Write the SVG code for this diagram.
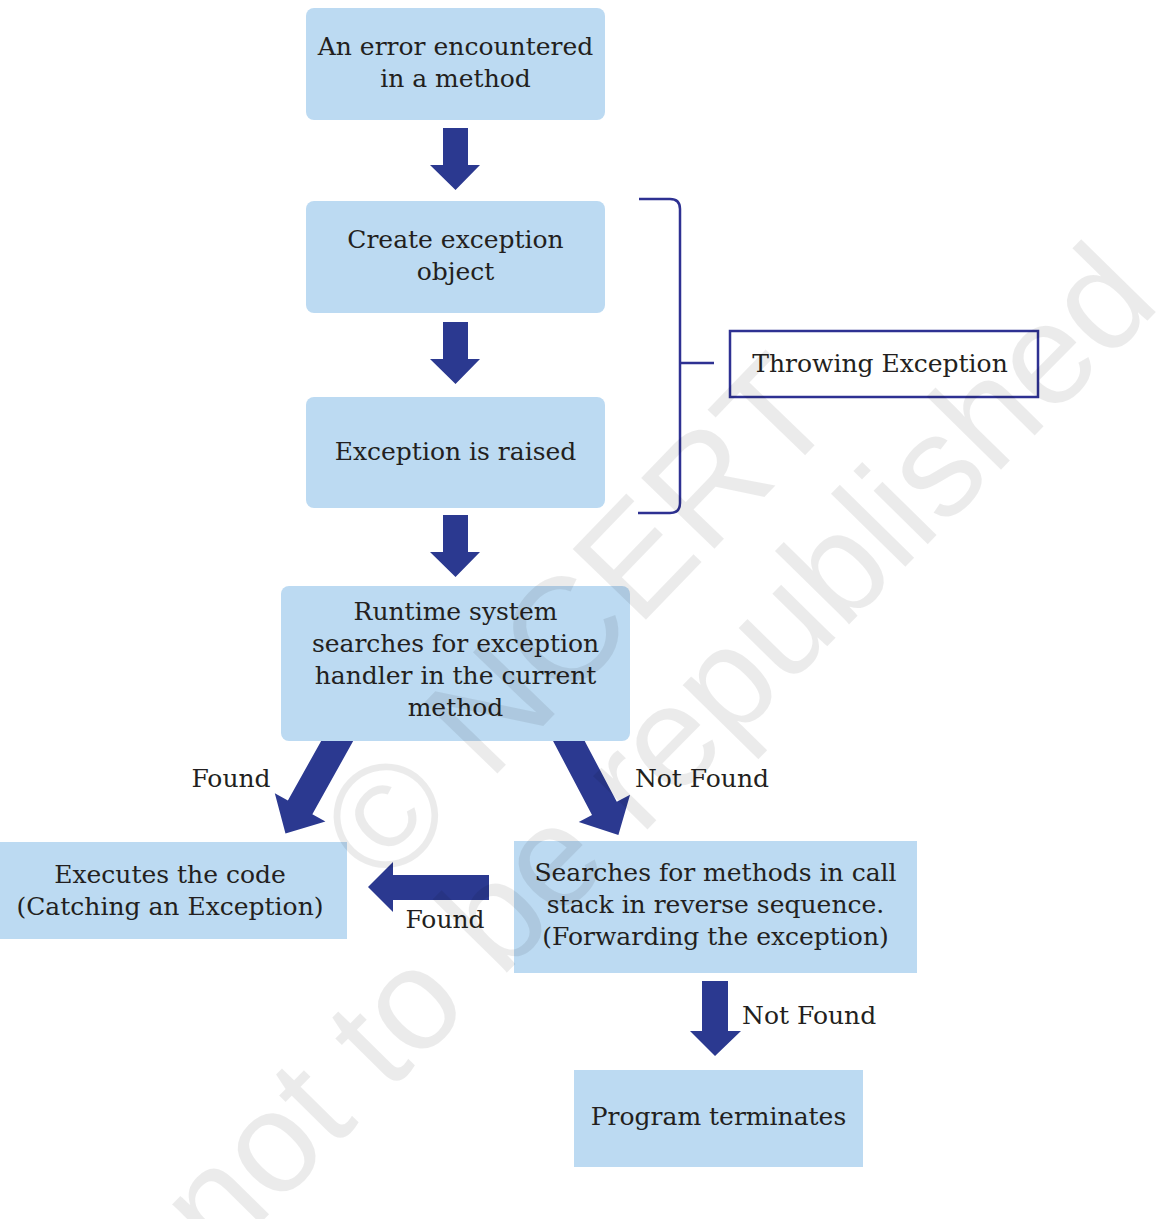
<svg xmlns="http://www.w3.org/2000/svg" width="1165" height="1219" viewBox="0 0 1165 1219">
  <style>
    .box { fill: #bcdaf2; }
    .lbl { font-family: "DejaVu Serif", "Liberation Serif", serif; font-size: 25px; fill: #231f20; text-anchor: middle; }
    .start { text-anchor: start; }
    .arrow { fill: #2b3990; }
    .bracket { fill: none; stroke: #2e3192; stroke-width: 2.5; }
    .mark { font-family: "Liberation Sans", Arial, sans-serif; fill: #000; fill-opacity: 0.08; }
  </style>
  <defs>
    <!-- block arrow pointing down, origin at top centre of shaft -->
    <polygon id="diag" points="-14,0 14,0 14,92 29,92 0,122 -29,92 -14,92"/>
  </defs>
  <rect width="1165" height="1219" fill="#fff"/>

  <g id="connectors">
    <polygon class="arrow" points="443,128 468,128 468,165 480,165 455.5,190 430,165 443,165"/>
    <polygon class="arrow" points="443,322 468,322 468,359 480,359 455.5,384 430,359 443,359"/>
    <polygon class="arrow" points="443,515 468,515 468,552 480,552 455.5,577 430,552 443,552"/>
    <use href="#diag" class="arrow" transform="translate(345,727) rotate(29.2)"/>
    <use href="#diag" class="arrow" transform="translate(561.5,727) rotate(-27.8)"/>
    <polygon class="arrow" points="489,875 489,900 393,900 393,912 368,887 393,862 393,875"/>
    <polygon class="arrow" points="702,981 728,981 728,1031 741,1031 715,1056 690,1031 702,1031"/>
    <path class="bracket" d="M639,199 H670 Q680,199 680,209 V503 Q680,513 670,513 H638 M680,363 H714"/>
    <text class="lbl" x="231" y="787">Found</text>
    <text class="lbl" x="702" y="787">Not Found</text>
    <text class="lbl" x="445" y="928">Found</text>
    <text class="lbl start" x="742" y="1024">Not Found</text>
  </g>

  <g id="node-error">
    <rect class="box" x="306" y="8" width="299" height="112" rx="8"/>
    <text class="lbl" x="455.5" y="55">An error encountered</text>
    <text class="lbl" x="455.5" y="87">in a method</text>
  </g>
  <g id="node-create">
    <rect class="box" x="306" y="201" width="299" height="112" rx="8"/>
    <text class="lbl" x="455.5" y="248">Create exception</text>
    <text class="lbl" x="455.5" y="280">object</text>
  </g>
  <g id="node-raised">
    <rect class="box" x="306" y="397" width="299" height="111" rx="8"/>
    <text class="lbl" x="455.5" y="460">Exception is raised</text>
  </g>
  <g id="node-throwing">
    <rect x="730" y="331" width="308" height="66" fill="#fff" stroke="#2e3192" stroke-width="2.5"/>
    <text class="lbl" x="880" y="372">Throwing Exception</text>
  </g>
  <g id="node-runtime">
    <rect class="box" x="281" y="586" width="349" height="155" rx="8"/>
    <text class="lbl" x="455.5" y="620">Runtime system</text>
    <text class="lbl" x="455.5" y="652">searches for exception</text>
    <text class="lbl" x="455.5" y="684">handler in the current</text>
    <text class="lbl" x="455.5" y="716">method</text>
  </g>
  <g id="node-catch">
    <rect class="box" x="0" y="842" width="347" height="97"/>
    <text class="lbl" x="170" y="883">Executes the code</text>
    <text class="lbl" x="170" y="915">(Catching an Exception)</text>
  </g>
  <g id="node-forward">
    <rect class="box" x="514" y="841" width="403" height="132"/>
    <text class="lbl" x="715.5" y="881">Searches for methods in call</text>
    <text class="lbl" x="715.5" y="913">stack in reverse sequence.</text>
    <text class="lbl" x="715.5" y="945">(Forwarding the exception)</text>
  </g>
  <g id="node-terminate">
    <rect class="box" x="574" y="1070" width="289" height="97"/>
    <text class="lbl" x="718.5" y="1125">Program terminates</text>
  </g>

  <g id="watermark">
    <text class="mark" font-size="148" text-anchor="middle" transform="translate(613,654) rotate(-46)">© NCERT</text>
    <text class="mark" font-size="144" transform="translate(219.6,1264.8) rotate(-45.5)">not to be republished</text>
  </g>
</svg>
